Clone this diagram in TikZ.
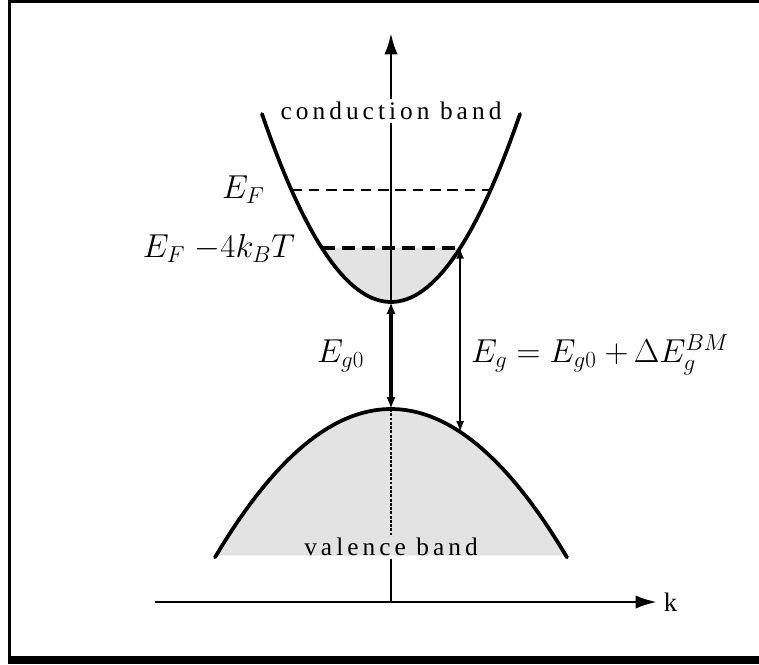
\documentclass[tikz,border=0pt]{standalone}
\usepackage{amsmath}
\usepackage{fontspec}
\setmainfont{Liberation Serif}
\usepackage{tikz}
\usetikzlibrary{positioning,arrows.meta,calc}
\tikzset{
  band curve/.style={
    line width=2.8pt,
    line cap=round
  },
  band fill/.style={
    fill=black!11
  },
  axis line/.style={
    line width=2.2pt
  },
  axis arrow/.style={
    axis line,
    -{Latex[length=16pt,width=10pt]}
  },
  gap arrow/.style={
    line width=3pt,
    {Latex[length=9pt,width=7pt]}-{Latex[length=9pt,width=7pt]}
  },
  gap arrow thin/.style={
    line width=1.5pt,
    {Latex[length=8pt,width=6pt]}-{Latex[length=8pt,width=6pt]}
  },
  fermi line/.style={
    line width=1.4pt,
    dash pattern=on 8pt off 5pt
  },
  thermal line/.style={
    line width=2.6pt,
    dash pattern=on 10pt off 5pt
  },
  band label/.style={
    inner sep=2pt,
    font=\fontsize{19}{22}\selectfont\addfontfeature{LetterSpace=16}
  },
  math label/.style={
    inner sep=2pt,
    font=\fontsize{24}{28}\selectfont
  },
  text label/.style={
    inner sep=2pt,
    font=\fontsize{20}{24}\selectfont
  }
}

\begin{document}
\begin{tikzpicture}[x=0.75pt,y=-0.75pt]
  \useasboundingbox (0,0) rectangle (759,664);
  % frame
  \fill (8,0) rectangle (759,2.5);
  \fill (8,0) rectangle (11,664);
  \fill (8,656) rectangle (759,664);

  % key points
  \coordinate (ytip) at (391,33);
  \coordinate (cbmin) at (391,302);
  \coordinate (vbmax) at (391,409);
  \coordinate (orig) at (391,602);
  \coordinate (kstart) at (155,602);
  \coordinate (ktip) at (657,602);
  \coordinate (efl) at (291.4,190);
  \coordinate (efr) at (490.6,190);
  \coordinate (e4l) at (321.9,248);
  \coordinate (e4r) at (460.1,248);
  \coordinate (vbhit) at (460.1,431.9);

  % filled states
  \fill[band fill] (e4l) -- plot[domain=-69.1:69.1,samples=40] ({391+\x},{302-(0.1063*\x)*(0.1063*\x)}) -- cycle;
  \fill[band fill] plot[domain=-175:175,samples=60] ({391+\x},{409+(0.0692*\x)*(0.0692*\x)}) -- cycle;

  % bands
  \draw[band curve] plot[domain=-129:129,samples=60] ({391+\x},{302-(0.1063*\x)*(0.1063*\x)});
  \draw[band curve] plot[domain=-176:176,samples=60] ({391+\x},{409+(0.0692*\x)*(0.0692*\x)});

  \node[band label] (cbl) at (391,111) {conduction band};
  \node[band label] (vbl) at (391,547) {valence band};

  % axes
  \draw[axis arrow] (cbl.north) -- (ytip);
  \draw[axis line] (cbl.south) -- (cbmin);
  \draw[gap arrow] (cbmin) -- (vbmax);
  \draw[axis line, densely dotted] (vbmax) -- (vbl.north);
  \draw[line width=1.2pt] (vbl.south) -- (orig);
  \draw[axis arrow] (kstart) -- (ktip);
  \node[text label, right=3pt of ktip] (klab) {k};

  % Fermi levels
  \draw[fermi line] (efl) -- (efr);
  \draw[thermal line] (e4l) -- (e4r);
  \node[math label, left=18pt of efl] (eflab) {$E_F$};
  \node[math label, left=18pt of e4l] (e4lab) {$E_F\;{-}4k_BT$};

  % gaps
  \path (cbmin) -- (vbmax) coordinate[midway] (eg0mid);
  \node[math label, left=18pt of eg0mid] (eg0lab) {$E_{g0}$};
  \draw[gap arrow thin] (e4r) -- (vbhit);
  \path (e4r) -- (vbhit) coordinate[pos=0.58] (egmid);
  \node[math label, right=6pt of egmid] (eglab) {$E_g = E_{g0}\ {+}\,\Delta E^{BM}_{g}$};
\end{tikzpicture}
\end{document}
